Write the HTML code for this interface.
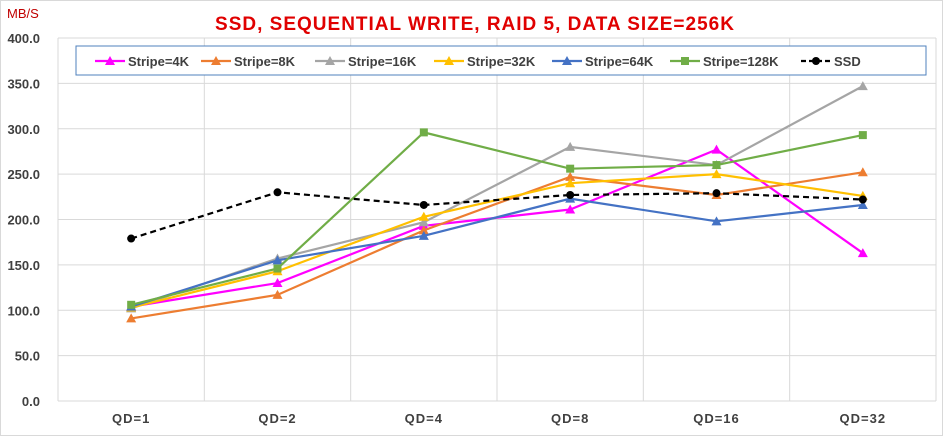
<!DOCTYPE html>
<html><head><meta charset="utf-8"><style>
body{margin:0;background:#fff;font-family:"Liberation Sans",Arial,sans-serif}
svg text{font-family:"Liberation Sans",Arial,sans-serif}
</style></head><body>
<svg id="c" width="943" height="436" xmlns="http://www.w3.org/2000/svg">
<rect x="0.5" y="0.5" width="942" height="435" fill="#fff" stroke="#d9d9d9"/>
<text x="7" y="18" font-size="13" fill="#c00000">MB/S</text>
<text x="475" y="30" font-size="19" font-weight="bold" fill="#e00000" text-anchor="middle" letter-spacing="1">SSD, SEQUENTIAL WRITE, RAID 5, DATA SIZE=256K</text>
<g id="grid"></g><g id="series"></g>
<g id="legend">
<rect x="76" y="46" width="850" height="29" fill="#fff" stroke="#4f81bd"/>
</g>
</svg>
<script>
const categories=["QD=1","QD=2","QD=4","QD=8","QD=16","QD=32"];
const yTicks=["0.0","50.0","100.0","150.0","200.0","250.0","300.0","350.0","400.0"];
const s4k=[104,130,193,211,277,163];
const s8k=[91,117,188,247,227,252];
const s16k=[102,157,197,280,260,347];
const s32k=[103,143,203,240,250,226];
const s64k=[104,155,182,223,198,216];
const s128k=[106,146,296,256,260,293];
const ssd=[179,230,216,227,229,222];
const names=["Stripe=4K","Stripe=8K","Stripe=16K","Stripe=32K","Stripe=64K","Stripe=128K","SSD"];
const NS="http://www.w3.org/2000/svg";
const L=58,R=936,T=38,B=401;
const step=(R-L)/categories.length;
const x=i=>L+step*(i+0.5);
const y=v=>B-(v/400)*(B-T);
function mk(tag,a,p){const e=document.createElementNS(NS,tag);for(const k in a)e.setAttribute(k,a[k]);p.appendChild(e);return e;}
const g=document.getElementById('grid');
yTicks.forEach((t,i)=>{const v=i*50;
const ln=mk('line',{x1:L,x2:R,y1:y(v),y2:y(v),stroke:'#d9d9d9'},g);


const tx=mk('text',{x:40,y:y(v)+5,'font-size':13,'font-weight':'bold','text-anchor':'end',fill:'#404040'},g);tx.textContent=t;

});
for(let i=0;i<=categories.length;i++){const ln=mk('line',{x1:L+step*i,x2:L+step*i,y1:T,y2:B,stroke:'#d9d9d9'},g);

}
categories.forEach((c,i)=>{const tx=mk('text',{x:x(i),y:423,'font-size':13,'font-weight':'bold','text-anchor':'middle',fill:'#404040','letter-spacing':1},g);tx.textContent=c;

});
const data=[s4k,s8k,s16k,s32k,s64k,s128k,ssd];
const colors=["#ff00ff","#ed7d31","#a5a5a5","#ffc000","#4472c4","#70ad47","#000"];
const markers=["tri","tri","tri","tri","tri","sq","dot"];
function marker(type,cx,cy,col,p){let e;
if(type=="tri")e=mk('polygon',{points:`${cx},${cy-5} ${cx-5},${cy+4} ${cx+5},${cy+4}`,fill:col},p);
else if(type=="sq")e=mk('rect',{x:cx-4,y:cy-4,width:8,height:8,fill:col},p);
else e=mk('circle',{cx:cx,cy:cy,r:4,fill:col},p);return e;}
const sg=document.getElementById('series');
data.forEach((d,si)=>{const grp=mk('g',{},sg);


const pl=mk('polyline',{points:d.map((v,i)=>x(i)+','+y(v)).join(' '),fill:'none',stroke:colors[si],'stroke-width':2.2,'stroke-dasharray':si==6?'6,4':'none'},grp);


d.forEach((v,i)=>{const m=marker(markers[si],x(i),y(v),colors[si],grp);

});});
const lg=document.getElementById('legend');
const lx=[95,201,315,434,552,670,801];
names.forEach((n,i)=>{const e=mk('g',{},lg);


mk('line',{x1:lx[i],x2:lx[i]+30,y1:61,y2:61,stroke:colors[i],'stroke-width':2.2,'stroke-dasharray':i==6?'5,3':'none'},e);
marker(markers[i],lx[i]+15,61,colors[i],e);
const t=mk('text',{x:lx[i]+33,y:66,'font-size':13,'font-weight':'bold',fill:'#404040'},e);t.textContent=n;});
</script>
</body></html>
